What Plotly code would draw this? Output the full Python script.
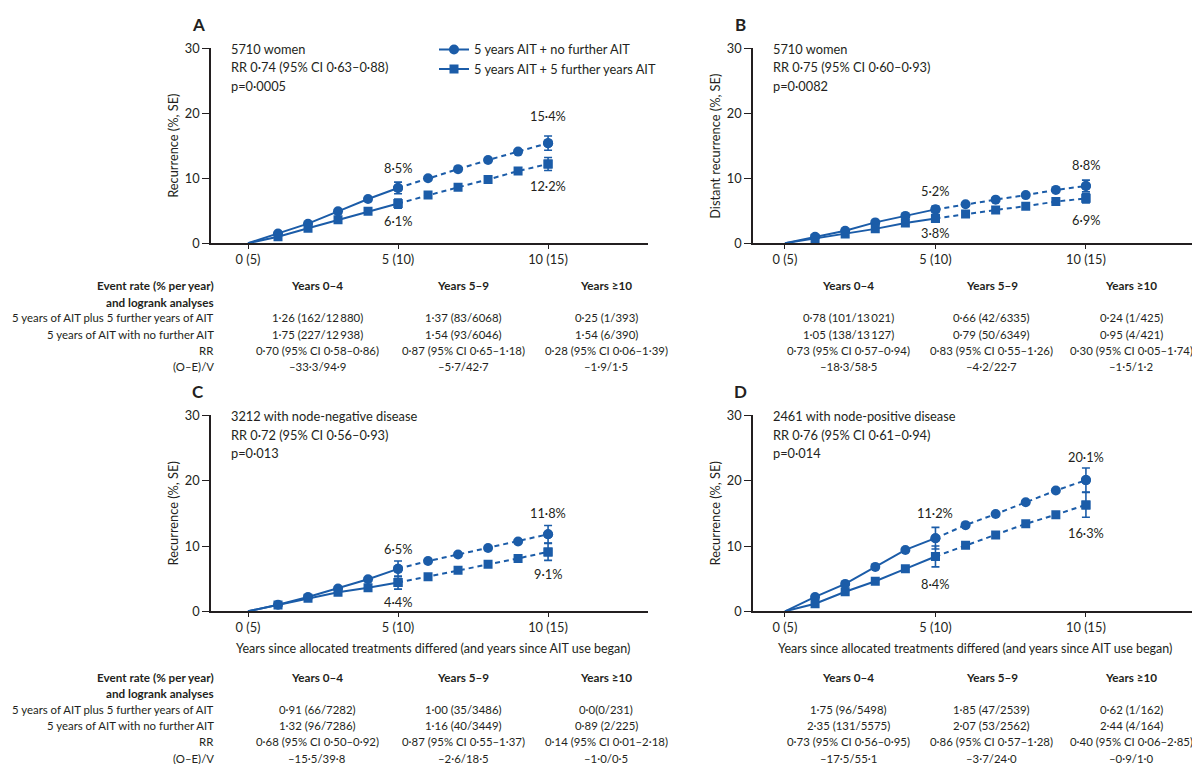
import plotly.graph_objects as go

W, H = 1200, 764
BLUE = "#1b5ca8"
INK = "#231f20"
FONT = "Lato"

# ---------------- data ----------------
years = list(range(11))
xtick_vals = [0, 5, 10]
xtick_text = ["0 (5)", "5 (10)", "10 (15)"]
ytick_vals = [0, 10, 20, 30]
series_names = ["5 years AIT + no further AIT", "5 years AIT + 5 further years AIT"]

# recurrence (%) by year; "no" = 5 years AIT + no further AIT, "ext" = + 5 further years
A_no = [0, 1.5, 3.0, 4.9, 6.8, 8.5, 10.0, 11.4, 12.8, 14.1, 15.4]
A_ext = [0, 1.0, 2.3, 3.6, 4.9, 6.1, 7.4, 8.6, 9.8, 11.1, 12.2]
B_no = [0, 1.0, 1.9, 3.2, 4.2, 5.2, 6.0, 6.7, 7.4, 8.2, 8.8]
B_ext = [0, 0.7, 1.4, 2.2, 3.1, 3.8, 4.5, 5.1, 5.7, 6.4, 6.9]
C_no = [0, 1.0, 2.2, 3.5, 4.9, 6.5, 7.7, 8.7, 9.7, 10.7, 11.8]
C_ext = [0, 0.95, 2.0, 2.9, 3.6, 4.4, 5.3, 6.3, 7.2, 8.1, 9.1]
D_no = [0, 2.2, 4.2, 6.8, 9.4, 11.2, 13.2, 14.9, 16.7, 18.5, 20.1]
D_ext = [0, 1.15, 3.0, 4.6, 6.5, 8.4, 10.1, 11.7, 13.4, 14.8, 16.3]

# SE at years 5 and 10
se_years = [5, 10]
A_no_se = [0.9, 1.1]
A_ext_se = [0.7, 1.0]
B_no_se = [0.5, 0.9]
B_ext_se = [0.5, 0.7]
C_no_se = [1.2, 1.35]
C_ext_se = [1.0, 1.3]
D_no_se = [1.65, 1.85]
D_ext_se = [1.6, 1.9]

A_info = ["5710 women", "RR 0·74 (95% CI 0·63–0·88)", "p=0·0005"]
B_info = ["5710 women", "RR 0·75 (95% CI 0·60–0·93)", "p=0·0082"]
C_info = ["3212 with node-negative disease", "RR 0·72 (95% CI 0·56–0·93)", "p=0·013"]
D_info = ["2461 with node-positive disease", "RR 0·76 (95% CI 0·61–0·94)", "p=0·014"]

y_titles = ["Recurrence (%, SE)", "Distant recurrence (%, SE)", "Recurrence (%, SE)", "Recurrence (%, SE)"]
x_title = "Years since allocated treatments differed (and years since AIT use began)"

table_header = ["Event rate (% per year)", "and logrank analyses"]
table_rows = ["5 years of AIT plus 5 further years of AIT", "5 years of AIT with no further AIT", "RR", "(O–E)/V"]
table_cols = ["Years 0–4", "Years 5–9", "Years ≥10"]

A_tab = [
    ["1·26 (162/12\u2009880)", "1·37 (83/6068)", "0·25 (1/393)"],
    ["1·75 (227/12\u2009938)", "1·54 (93/6046)", "1·54 (6/390)"],
    ["0·70 (95% CI 0·58–0·86)", "0·87 (95% CI 0·65–1·18)", "0·28 (95% CI 0·06–1·39)"],
    ["–33·3/94·9", "–5·7/42·7", "–1·9/1·5"],
]
B_tab = [
    ["0·78 (101/13\u2009021)", "0·66 (42/6335)", "0·24 (1/425)"],
    ["1·05 (138/13\u2009127)", "0·79 (50/6349)", "0·95 (4/421)"],
    ["0·73 (95% CI 0·57–0·94)", "0·83 (95% CI 0·55–1·26)", "0·30 (95% CI 0·05–1·74)"],
    ["–18·3/58·5", "–4·2/22·7", "–1·5/1·2"],
]
C_tab = [
    ["0·91 (66/7282)", "1·00 (35/3486)", "0·0(0/231)"],
    ["1·32 (96/7286)", "1·16 (40/3449)", "0·89 (2/225)"],
    ["0·68 (95% CI 0·50–0·92)", "0·87 (95% CI 0·55–1·37)", "0·14 (95% CI 0·01–2·18)"],
    ["–15·5/39·8", "–2·6/18·5", "–1·0/0·5"],
]
D_tab = [
    ["1·75 (96/5498)", "1·85 (47/2539)", "0·62 (1/162)"],
    ["2·35 (131/5575)", "2·07 (53/2562)", "2·44 (4/164)"],
    ["0·73 (95% CI 0·56–0·95)", "0·86 (95% CI 0·57–1·28)", "0·40 (95% CI 0·06–2·85)"],
    ["–17·5/55·1", "–3·7/24·0", "–0·9/1·0"],
]

# ---------------- layout helpers ----------------
def px(x):
    return x / W

def py(y):
    return 1 - y / H

panels = [
    dict(letter="A", no=A_no, ext=A_ext, no_se=A_no_se, ext_se=A_ext_se, info=A_info, tab=A_tab,
         xd=(203, 640), yd=(32, 231), xr=(-1.233, 13.33), dx=0, dy=0, labels=True, xtitle=False,
         cols=(309, 455, 598), shifts=(20, -17, 27, -22)),
    dict(letter="B", no=B_no, ext=B_ext, no_se=B_no_se, ext_se=B_ext_se, info=B_info, tab=B_tab,
         xd=(745, 1195), yd=(32, 231), xr=(-1.063, 13.89), dx=542, dy=0, labels=False, xtitle=False,
         cols=(840, 984, 1123), shifts=(18, -15, 21, -22)),
    dict(letter="C", no=C_no, ext=C_ext, no_se=C_no_se, ext_se=C_ext_se, info=C_info, tab=C_tab,
         xd=(203, 640), yd=(407, 607), xr=(-1.233, 13.33), dx=0, dy=375, labels=True, xtitle=True,
         cols=(309, 455, 598), shifts=(20, -19, 21, -22)),
    dict(letter="D", no=D_no, ext=D_ext, no_se=D_no_se, ext_se=D_ext_se, info=D_info, tab=D_tab,
         xd=(745, 1195), yd=(407, 607), xr=(-1.063, 13.89), dx=542, dy=375, labels=False, xtitle=True,
         cols=(840, 984, 1123), shifts=(25, -28, 23, -28)),
]

TXT = 12.8
TAB = 11.4

fig = go.Figure()
annotations = []
layout_axes = {}

for i, p in enumerate(panels):
    n = "" if i == 0 else str(i + 1)
    xa, ya = "x" + n, "y" + n
    layout_axes["xaxis" + n] = dict(
        domain=[px(p["xd"][0]), px(p["xd"][1])], range=list(p["xr"]), anchor=ya,
        tickvals=xtick_vals, ticktext=xtick_text, ticks="outside", ticklen=4, tickwidth=1.3,
        tickcolor=INK, showline=True, linecolor=INK, linewidth=1.5, showgrid=False, zeroline=False,
        tickfont=dict(family=FONT, size=TXT, color=INK), fixedrange=True,
    )
    layout_axes["yaxis" + n] = dict(
        domain=[py(p["yd"][1]), py(p["yd"][0])], range=[0, 30], anchor=xa,
        tickvals=ytick_vals, ticks="outside", ticklen=7, tickwidth=1.3, tickcolor=INK,
        showline=True, linecolor=INK, linewidth=1.5, showgrid=False, zeroline=False,
        tickfont=dict(family=FONT, size=TXT, color=INK), fixedrange=True,
    )
    for key, sym, size, se_key in (("no", "circle", 10, "no_se"), ("ext", "square", 9, "ext_se")):
        ys = p[key]
        fig.add_trace(go.Scatter(x=years[:6], y=ys[:6], mode="lines", xaxis=xa, yaxis=ya,
                                 line=dict(color=BLUE, width=2), showlegend=False, hoverinfo="skip"))
        fig.add_trace(go.Scatter(x=years[5:], y=ys[5:], mode="lines", xaxis=xa, yaxis=ya,
                                 line=dict(color=BLUE, width=2, dash="5px,4px"), showlegend=False,
                                 hoverinfo="skip"))
        fig.add_trace(go.Scatter(x=years[1:], y=ys[1:], mode="markers", xaxis=xa, yaxis=ya,
                                 marker=dict(symbol=sym, size=size, color=BLUE), showlegend=False))
        fig.add_trace(go.Scatter(x=se_years, y=[ys[years.index(v)] for v in se_years], mode="markers",
                                 xaxis=xa, yaxis=ya, marker=dict(symbol=sym, size=size, color=BLUE),
                                 error_y=dict(type="data", array=p[se_key], color=BLUE, thickness=1.6,
                                              width=4), showlegend=False))
    # value labels
    s = p["shifts"]
    for (key, yr, shift) in (("no", 5, s[0]), ("ext", 5, s[1]), ("no", 10, s[2]), ("ext", 10, s[3])):
        v = p[key][years.index(yr)]
        annotations.append(dict(x=yr, y=v, xref=xa, yref=ya, text=f"{v:.1f}%".replace(".", "·"),
                                showarrow=False, yshift=shift, xanchor="center", yanchor="middle",
                                font=dict(family=FONT, size=TXT, color=INK)))
    # info text
    for k, line in enumerate(p["info"]):
        annotations.append(dict(x=px(221 + p["dx"]), y=py(p["yd"][0] + 1 + 18.5 * k), xref="paper",
                                yref="paper", text=line, showarrow=False, xanchor="left",
                                yanchor="middle", font=dict(family=FONT, size=TXT, color=INK)))
    # panel letter
    annotations.append(dict(x=px(190 + p["dx"]), y=py(8 + p["dy"]), xref="paper", yref="paper",
                            text="<b>" + p["letter"] + "</b>", showarrow=False, xanchor="center",
                            yanchor="middle", font=dict(family=FONT, size=17, color=INK)))
    # y title
    annotations.append(dict(x=px(165 + p["dx"]), y=py((p["yd"][0] + p["yd"][1]) / 2), xref="paper",
                            yref="paper", text=y_titles[i], textangle=-90, showarrow=False,
                            xanchor="center", yanchor="middle",
                            font=dict(family=FONT, size=TXT, color=INK)))
    if p["xtitle"]:
        annotations.append(dict(x=px(425 + p["dx"]), y=py(645), xref="paper", yref="paper",
                                text=x_title, showarrow=False, xanchor="center", yanchor="middle",
                                font=dict(family=FONT, size=12.5, color=INK)))
    # table
    t0 = 274 if p["dy"] == 0 else 674
    step = 16.6
    col_x = p["cols"]
    for c, head in enumerate(table_cols):
        annotations.append(dict(x=px(col_x[c]), y=py(t0), xref="paper", yref="paper",
                                text="<b>" + head + "</b>", showarrow=False, xanchor="center",
                                yanchor="middle", font=dict(family=FONT, size=TAB + 0.3, color=INK)))
    for r, row in enumerate(p["tab"]):
        for c, cell in enumerate(row):
            annotations.append(dict(x=px(col_x[c]), y=py(t0 + step * (r + 2)), xref="paper",
                                    yref="paper", text=cell, showarrow=False, xanchor="center",
                                    yanchor="middle", font=dict(family=FONT, size=TAB, color=INK)))
    if p["labels"]:
        for k, h in enumerate(table_header):
            annotations.append(dict(x=px(208), y=py(t0 + step * k), xref="paper", yref="paper",
                                    text="<b>" + h + "</b>", showarrow=False, xanchor="right",
                                    yanchor="middle", font=dict(family=FONT, size=TAB + 0.3, color=INK)))
        for r, lab in enumerate(table_rows):
            annotations.append(dict(x=px(208), y=py(t0 + step * (r + 2)), xref="paper", yref="paper",
                                    text=lab, showarrow=False, xanchor="right", yanchor="middle",
                                    font=dict(family=FONT, size=TAB, color=INK)))

# legend-only entries
for name, sym, size in ((series_names[0], "circle", 10), (series_names[1], "square", 9)):
    fig.add_trace(go.Scatter(x=[None], y=[None], mode="lines+markers", name=name,
                             line=dict(color=BLUE, width=2), marker=dict(symbol=sym, size=size, color=BLUE)))

fig.update_layout(
    width=W, height=H, margin=dict(l=0, r=0, t=0, b=0),
    paper_bgcolor="white", plot_bgcolor="white",
    font=dict(family=FONT, size=TXT, color=INK),
    showlegend=True,
    legend=dict(x=px(426), y=py(18), xanchor="left", yanchor="top", bgcolor="rgba(0,0,0,0)",
                font=dict(family=FONT, size=TXT, color=INK), itemwidth=30, tracegroupgap=0),
    annotations=annotations,
    **layout_axes,
)

fig.write_html("out.html")
